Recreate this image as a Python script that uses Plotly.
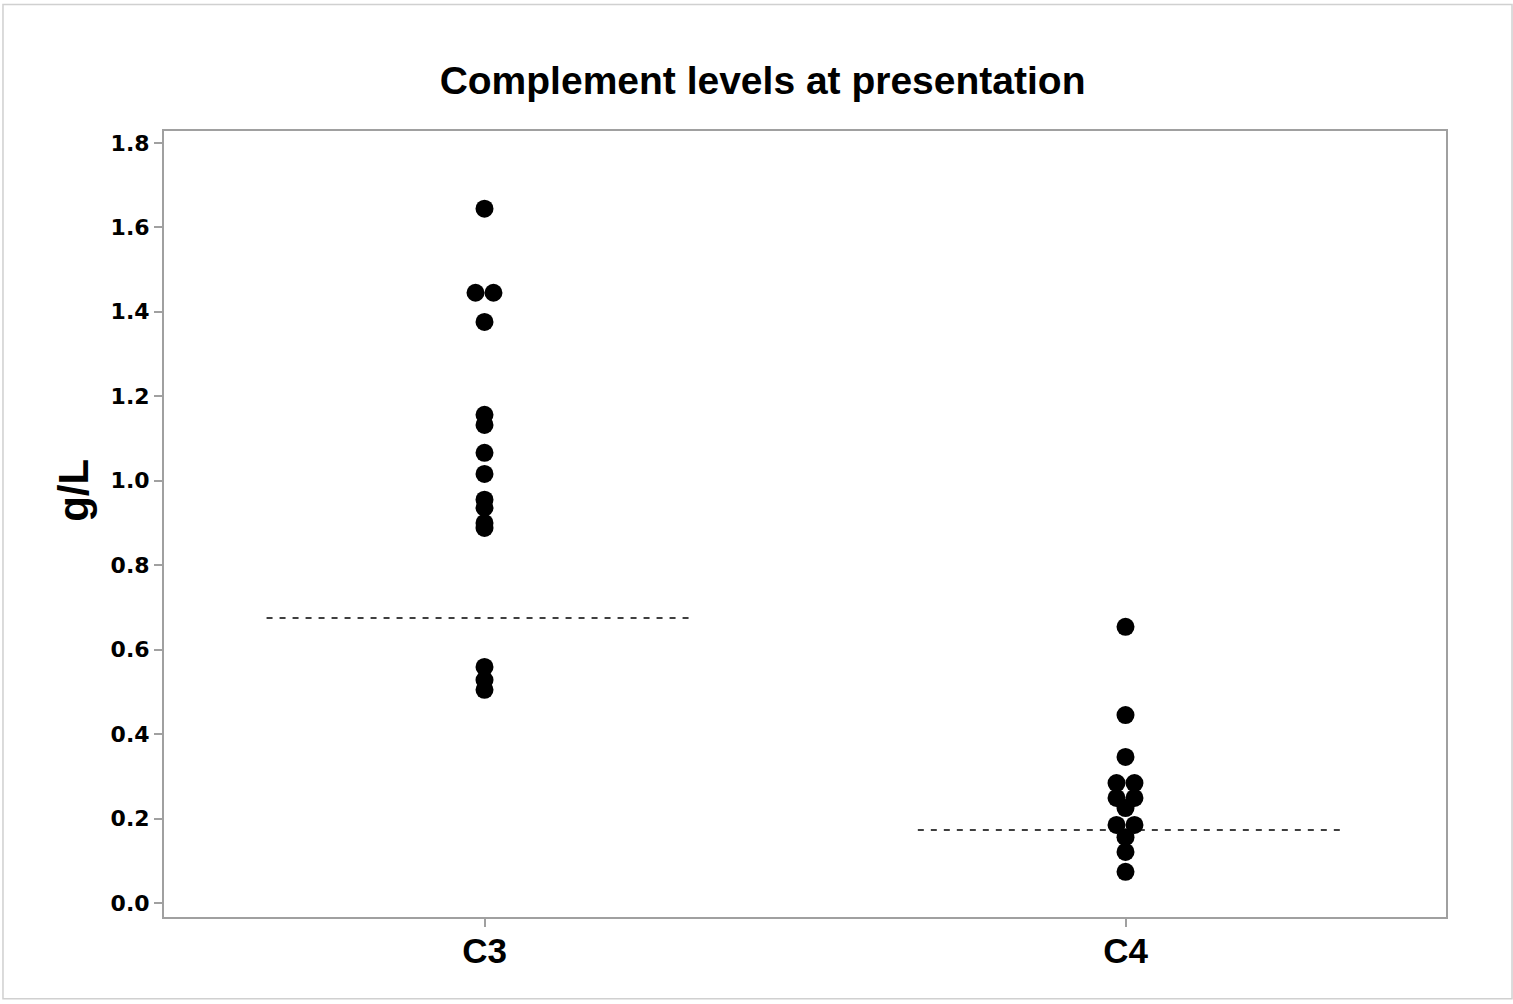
import plotly.graph_objects as go
from collections import Counter

categories = ["C3", "C4"]
c3_values = [1.644, 1.445, 1.445, 1.376, 1.156, 1.132, 1.066, 1.016, 0.955, 0.936,
             0.900, 0.888, 0.559, 0.528, 0.505]
c4_values = [0.654, 0.445, 0.346, 0.284, 0.284, 0.249, 0.249, 0.225, 0.185, 0.185,
             0.156, 0.121, 0.074]
ref_levels = [0.675, 0.173]
ref_extents = [(-0.34, 0.322), (-0.324, 0.3375)]
y_ticks = [0.0, 0.2, 0.4, 0.6, 0.8, 1.0, 1.2, 1.4, 1.6, 1.8]

DODGE = 0.014


def dodge(values, center):
    counts = Counter(values)
    seen = Counter()
    xs = []
    for v in values:
        n = counts[v]
        i = seen[v]
        seen[v] += 1
        xs.append(center + (i - (n - 1) / 2) * 2 * DODGE)
    return xs


fig = go.Figure()
for idx, vals in enumerate([c3_values, c4_values]):
    fig.add_trace(go.Scatter(
        x=dodge(vals, idx), y=vals, mode="markers",
        marker=dict(size=18, color="black", line=dict(width=0)),
        showlegend=False, hoverinfo="y"))
    x0, x1 = ref_extents[idx]
    fig.add_trace(go.Scatter(
        x=[idx + x0, idx + x1], y=[ref_levels[idx]] * 2, mode="lines",
        line=dict(color="black", width=1.6, dash="6px,7px"),
        showlegend=False, hoverinfo="skip"))

fig.update_layout(
    width=1513, height=1004,
    margin=dict(l=164, r=67, t=131, b=87),
    paper_bgcolor="white", plot_bgcolor="white",
    title=dict(text="<b>Complement levels at presentation</b>", xref="container", x=0.504,
               xanchor="center", yref="container", y=0.92, yanchor="middle",
               font=dict(family="Liberation Sans, Arial", size=39, color="black")),
    xaxis=dict(range=[-0.5, 1.5], tickmode="array", tickvals=[0, 1],
               ticktext=[f"<b>{c}</b>" for c in categories],
               tickfont=dict(family="Liberation Sans, Arial", size=35, color="black"),
               ticklabelstandoff=-6,
               showgrid=False, zeroline=False, showline=True, linecolor="#a0a0a0",
               linewidth=2, mirror=True, ticks="outside", ticklen=8, tickwidth=2,
               tickcolor="#a0a0a0"),
    yaxis=dict(range=[-0.033, 1.828], tickmode="array", tickvals=y_ticks,
               ticktext=[f"{v:.1f}" for v in y_ticks],
               tickfont=dict(family="DejaVu Sans", size=22, color="black", weight="bold"),
               showgrid=False, zeroline=False, showline=True, linecolor="#a0a0a0",
               linewidth=2, mirror=True, ticks="outside", ticklen=8, tickwidth=2,
               tickcolor="#a0a0a0"),
    annotations=[dict(text="<b>g/L</b>", xref="paper", yref="paper",
                      x=-0.0705, y=0.543, xanchor="center", yanchor="middle",
                      textangle=-90, showarrow=False,
                      font=dict(family="Liberation Sans, Arial", size=42, color="black"))],
    shapes=[dict(type="rect", xref="paper", yref="paper",
                 x0=-0.1256, x1=1.0515, y0=-0.104, y1=1.161,
                 line=dict(color="#d0d0d0", width=1.5), layer="below")],
)

fig.write_html("out.html")
